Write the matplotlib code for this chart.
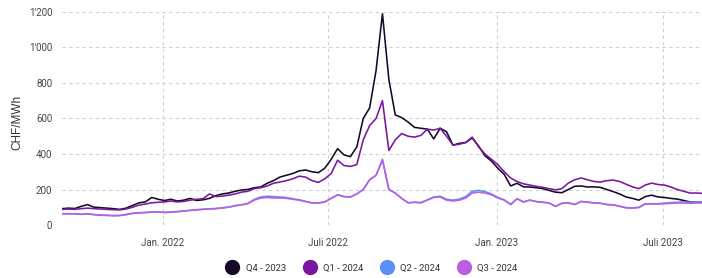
import numpy as np
import pandas as pd
import matplotlib
matplotlib.use("Agg")
import matplotlib.pyplot as plt
from matplotlib.lines import Line2D

# Weekly prices (CHF/MWh)
start_date = "2021-09-13"
n_weeks = 101

q4_2023 = [92, 95, 93, 105, 115, 100, 98, 95, 92, 88,
           95, 110, 125, 130, 155, 145, 138, 145, 135, 140,
           150, 138, 142, 150, 165, 175, 180, 190, 197, 200,
           210, 214, 235, 250, 270, 280, 290, 305, 310, 300,
           295, 320, 370, 430, 395, 385, 440, 600, 660, 870,
           1190, 820, 620, 605, 580, 550, 545, 540, 485, 545,
           525, 450, 460, 465, 490, 445, 390, 360, 320, 285,
           220, 235, 215, 214, 210, 205, 195, 185, 182, 200,
           218, 220, 214, 215, 212, 200, 188, 175, 158, 150,
           140, 160, 168, 158, 155, 150, 146, 138, 130, 128, 130]

q1_2024 = [88, 90, 88, 92, 95, 92, 90, 88, 86, 85,
           90, 100, 112, 118, 125, 128, 130, 135, 130, 133,
           140, 145, 148, 175, 160, 163, 168, 175, 185, 190,
           205, 210, 220, 235, 242, 250, 260, 275, 270, 250,
           240, 260, 290, 365, 335, 330, 340, 480, 560, 600,
           700, 420, 480, 515, 500, 495, 505, 540, 535, 545,
           500, 450, 455, 465, 495, 440, 400, 370, 340, 300,
           265, 245, 232, 225, 218, 212, 205, 198, 205, 236,
           255, 265, 255, 245, 242, 250, 253, 245, 230, 215,
           205, 225, 236, 228, 225, 214, 200, 190, 180, 180, 178]

q2_2024 = [63, 64, 63, 61, 63, 59, 56, 55, 53, 54,
           59, 66, 69, 71, 73, 75, 71, 73, 76, 79,
           83, 86, 89, 91, 93, 97, 101, 109, 114, 122,
           144, 158, 162, 160, 158, 155, 148, 142, 133, 125,
           124, 130, 150, 170, 160, 158, 175, 200, 255, 280,
           365, 200, 180, 150, 125, 128, 126, 142, 158, 162,
           145, 140, 146, 160, 190, 195, 188, 175, 155, 142,
           116, 148, 130, 140, 132, 128, 124, 106, 122, 125,
           116, 133, 129, 125, 123, 116, 114, 106, 98, 97,
           100, 120, 120, 120, 123, 126, 128, 130, 128, 130, 130]

q3_2024 = [62, 63, 62, 60, 62, 58, 55, 54, 52, 53,
           58, 65, 68, 70, 72, 74, 70, 72, 75, 78,
           82, 85, 88, 90, 92, 96, 100, 108, 113, 120,
           140, 152, 155, 152, 152, 150, 145, 140, 132, 124,
           124, 130, 150, 170, 160, 158, 175, 200, 255, 280,
           370, 200, 180, 150, 125, 128, 125, 140, 155, 158,
           140, 135, 140, 152, 180, 185, 180, 170, 152, 140,
           115, 148, 130, 140, 132, 128, 124, 105, 122, 125,
           115, 132, 128, 124, 122, 115, 113, 105, 96, 95,
           98, 118, 118, 118, 120, 122, 124, 124, 122, 124, 124]

series_labels = ["Q4 - 2023", "Q1 - 2024", "Q2 - 2024", "Q3 - 2024"]
colors = ["#150829", "#7a169f", "#5b8ef6", "#bb5fe2"]

tick_dates = ["2022-01-01", "2022-07-01", "2023-01-01", "2023-07-01"]
tick_labels = ["Jan. 2022", "Juli 2022", "Jan. 2023", "Juli 2023"]
y_ticks = [0, 200, 400, 600, 800, 1000, 1200]
y_tick_labels = ["0", "200", "400", "600", "800", "1'000", "1'200"]

dates = pd.date_range(start_date, periods=n_weeks, freq="7D")

plt.rcParams["font.family"] = ["Roboto", "DejaVu Sans"]

fig = plt.figure(figsize=(7.02, 2.78), dpi=100)
ax = fig.add_axes([62 / 702, 53 / 278, 640 / 702, 213 / 278])

for vals, lab, col in zip([q4_2023, q1_2024, q2_2024, q3_2024], series_labels, colors):
    ax.plot(dates, vals, color=col, lw=1.15, label=lab)

ax.set_xlim(pd.Timestamp("2021-09-13"), pd.Timestamp("2023-08-13"))
ax.set_ylim(0, 1200)

ax.set_xticks(pd.to_datetime(tick_dates))
ax.set_xticklabels(tick_labels, fontsize=7, color="#444444")
ax.set_yticks(y_ticks)
ax.set_yticklabels(y_tick_labels, fontsize=7, color="#444444")
ax.tick_params(length=0, pad=7)
ax.tick_params(axis="x", pad=9)

ax.grid(True, linestyle=(0, (3, 3)), color="#cfcfcf", lw=0.8)
ax.set_axisbelow(True)
for s in ax.spines.values():
    s.set_visible(False)

fig.text(17 / 702, 1 - 122 / 278, "CHF/MWh", rotation=90, va="center", ha="center",
         fontsize=8.5, color="#333333", family=["Liberation Sans", "DejaVu Sans"])

handles = [Line2D([], [], marker="o", linestyle="none", markersize=10,
                  markerfacecolor=c, markeredgecolor=c) for c in colors]
fig.legend(handles, series_labels, loc="center", bbox_to_anchor=(370 / 702, 10 / 278),
           ncol=4, frameon=False, fontsize=6.8, handletextpad=0.4, columnspacing=1.5,
           labelcolor="#333333")

fig.savefig("out.png", dpi=100)
